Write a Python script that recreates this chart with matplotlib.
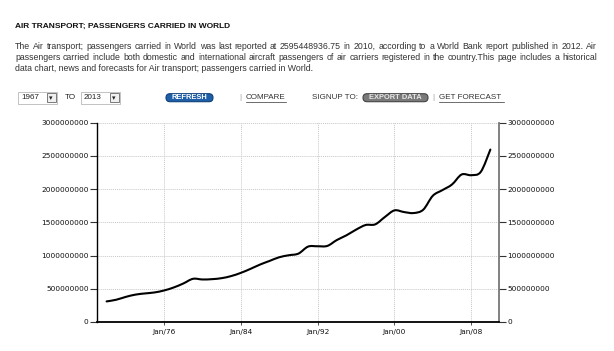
import matplotlib
matplotlib.use("Agg")
import matplotlib.pyplot as plt
from matplotlib.path import Path
from matplotlib.patches import PathPatch, FancyBboxPatch, Rectangle
from matplotlib.ticker import FixedLocator, FuncFormatter
import numpy as np

# ---------------- data ----------------
years = list(range(1970, 2011))
passengers = [
    310e6, 335e6, 378e6, 412e6, 430e6, 445e6, 475e6, 520e6, 580e6, 650e6,
    640e6, 645e6, 660e6, 692e6, 740e6, 800e6, 865e6, 920e6, 975e6, 1005e6,
    1030e6, 1135e6, 1140e6, 1145e6, 1234e6, 1305e6, 1390e6, 1460e6, 1470e6, 1580e6,
    1680e6, 1655e6, 1640e6, 1690e6, 1900e6, 1985e6, 2070e6, 2220e6, 2210e6, 2260e6,
    2595448936.75,
]
xtick_years = [1976, 1984, 1992, 2000, 2008]
xtick_labels = ["Jan/76", "Jan/84", "Jan/92", "Jan/00", "Jan/08"]
ytick_values = [0, 500000000, 1000000000, 1500000000, 2000000000, 2500000000, 3000000000]

title = "AIR TRANSPORT; PASSENGERS CARRIED IN WORLD"
body_lines = [
    "The Air transport; passengers carried in World was last reported at 2595448936.75 in 2010, according to a World Bank report published in 2012. Air",
    "passengers carried include both domestic and international aircraft passengers of air carriers registered in the country.This page includes a historical",
    "data chart, news and forecasts for Air transport; passengers carried in World.",
]

W, H = 614, 351
fig = plt.figure(figsize=(W / 100, H / 100), dpi=100)
fig.patch.set_facecolor("white")

# overlay in pixel coordinates for the page header
hx = fig.add_axes([0, 0, 1, 1])
hx.set_xlim(0, W)
hx.set_ylim(H, 0)
hx.axis("off")

FONT = "Liberation Sans"
hx.text(15, 26, title, fontsize=6.0, fontweight="bold", family=FONT,
        color="#111111", va="center", ha="left")

renderer = fig.canvas.get_renderer()


def text_width(s, fs, **kw):
    t = hx.text(0, 0, s, fontsize=fs, family=FONT, **kw)
    w = t.get_window_extent(renderer).width
    t.remove()
    return w


x_left, x_right = 15, 597
# font size chosen so that line 1 nearly fills the text column
w10 = text_width(body_lines[0], 10)
body_fs = 10 * (x_right - x_left - 8) / w10
line_y = [46.5, 57.5, 68.3]
for i, line in enumerate(body_lines):
    if i < 2:
        words = line.split(" ")
        widths = [text_width(w, body_fs) for w in words]
        gap = (x_right - x_left - sum(widths)) / (len(words) - 1)
        x = x_left
        for w, wd in zip(words, widths):
            hx.text(x, line_y[i], w, fontsize=body_fs, family=FONT,
                    color="#333333", va="center", ha="left")
            x += wd + gap
    else:
        hx.text(x_left, line_y[i], line, fontsize=body_fs, family=FONT,
                color="#333333", va="center", ha="left")

# ---------------- controls row ----------------
cy = 97.7
ctl_fs = 5.8


def dropdown(x0, x1, label):
    hx.add_patch(Rectangle((x0, cy - 6), x1 - x0, 12, facecolor="white",
                           edgecolor="#b8b8b8", linewidth=0.6))
    hx.add_patch(Rectangle((x1 - 10.5, cy - 4.5), 9, 9, facecolor="#f0f0f0",
                           edgecolor="#666666", linewidth=0.6))
    hx.text(x1 - 6, cy + 0.3, "\u25be", fontsize=5, color="#222222",
            ha="center", va="center", family="DejaVu Sans")
    hx.text(x0 + 3, cy, label, fontsize=ctl_fs, color="#222222",
            ha="left", va="center", family=FONT)


dropdown(18, 57, "1967")
hx.text(65, cy, "TO", fontsize=ctl_fs, color="#222222", ha="left", va="center", family=FONT)
dropdown(81, 120, "2013")


def pill(x0, x1, label, fc, tc, ec):
    hx.add_patch(FancyBboxPatch((x0, cy - 4), x1 - x0, 8,
                                boxstyle="round,pad=0,rounding_size=4",
                                facecolor=fc, edgecolor=ec, linewidth=0.8))
    hx.text((x0 + x1) / 2, cy, label, fontsize=5.4, fontweight="bold", color=tc,
            ha="center", va="center", family=FONT)


pill(166, 213, "REFRESH", "#1f5fa8", "white", "#0d3f78")
hx.text(239, cy, "|", fontsize=ctl_fs, color="#999999", ha="left", va="center", family=FONT)
hx.text(246, cy, "COMPARE", fontsize=ctl_fs, color="#333333", ha="left", va="center", family=FONT)
hx.plot([246, 286], [cy + 4, cy + 4], color="#333333", lw=0.5)
hx.text(312, cy, "SIGNUP TO:", fontsize=ctl_fs, color="#333333", ha="left", va="center",
        family=FONT)
pill(363, 428, "EXPORT DATA", "#7a7a7a", "#e8e8e8", "#444444")
hx.text(432, cy, "|", fontsize=ctl_fs, color="#999999", ha="left", va="center", family=FONT)
hx.text(439, cy, "GET FORECAST", fontsize=ctl_fs, color="#333333", ha="left", va="center",
        family=FONT)
hx.plot([439, 504], [cy + 4, cy + 4], color="#333333", lw=0.5)

# ---------------- chart ----------------
ax_l, ax_r, ax_t, ax_b = 97, 499, 122.7, 322
ax = fig.add_axes([ax_l / W, 1 - ax_b / H, (ax_r - ax_l) / W, (ax_b - ax_t) / H])
ax.set_xlim(1969.0, 2010.9)
ax.set_ylim(0, 3000000000)

# smooth curve (Catmull-Rom -> cubic Bezier) through the data points
xs = np.array(years, dtype=float)
ys = np.array(passengers, dtype=float)
verts = [(xs[0], ys[0])]
codes = [Path.MOVETO]
n = len(xs)
for i in range(n - 1):
    p0 = np.array([xs[max(i - 1, 0)], ys[max(i - 1, 0)]])
    p1 = np.array([xs[i], ys[i]])
    p2 = np.array([xs[i + 1], ys[i + 1]])
    p3 = np.array([xs[min(i + 2, n - 1)], ys[min(i + 2, n - 1)]])
    c1 = p1 + (p2 - p0) / 6.0
    c2 = p2 - (p3 - p1) / 6.0
    verts += [tuple(c1), tuple(c2), tuple(p2)]
    codes += [Path.CURVE4] * 3
ax.add_patch(PathPatch(Path(verts, codes), facecolor="none", edgecolor="#000000",
                       linewidth=1.5, capstyle="round", joinstyle="round", zorder=3))

ax.xaxis.set_major_locator(FixedLocator(xtick_years))
ax.set_xticklabels(xtick_labels)
ax.yaxis.set_major_locator(FixedLocator(ytick_values))
ax.yaxis.set_major_formatter(FuncFormatter(lambda v, p: "%d" % v))

ax.grid(True, color="#c8c8c8", linestyle=(0, (1, 1)), linewidth=0.7)
ax.set_axisbelow(True)

ax.spines["top"].set_visible(False)
ax.spines["left"].set_color("#000000")
ax.spines["left"].set_linewidth(1.0)
ax.spines["bottom"].set_color("#000000")
ax.spines["bottom"].set_linewidth(1.3)
ax.spines["right"].set_color("#777777")
ax.spines["right"].set_linewidth(1.3)

ax.tick_params(axis="y", which="both", left=True, right=True, labelleft=True,
               labelright=True, length=5, width=0.8, pad=1, labelsize=5.3,
               labelcolor="#111111", color="#333333")
ax.tick_params(axis="x", length=2, width=0.6, pad=3, labelsize=5.3,
               labelcolor="#111111", color="#333333")
for lab in ax.get_xticklabels() + ax.get_yticklabels():
    lab.set_family("DejaVu Sans")

fig.savefig("out.png", dpi=100, facecolor="white")
